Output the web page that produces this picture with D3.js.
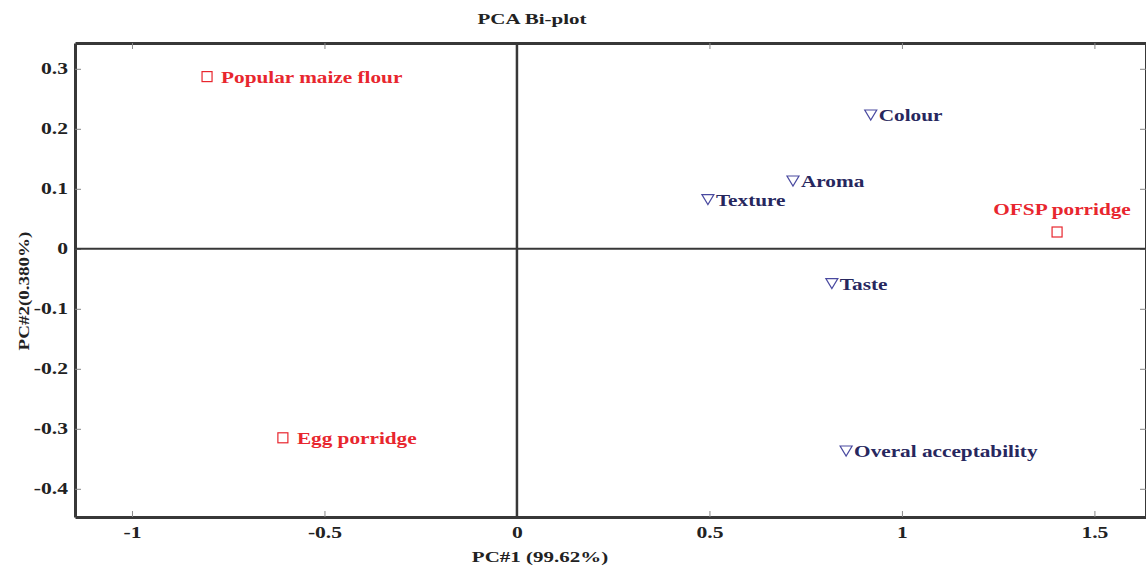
<!DOCTYPE html>
<html>
<head>
<meta charset="utf-8">
<script src="https://cdn.jsdelivr.net/npm/d3@7"></script>
<style>
  body { margin: 0; background: #fff; }
  svg { display: block; font-family: "Liberation Serif", "Times New Roman", serif; font-weight: bold; }
</style>
</head>
<body>
<svg id="chart" width="1146" height="569"></svg>
<script>
// samples (red squares)
const sampleNames = ["Popular maize flour", "Egg porridge", "OFSP porridge"];
const samplePC1 = [-0.805, -0.608, 1.403];
const samplePC2 = [0.287, -0.315, 0.028];

// sensory attributes (blue triangles)
const attrNames = ["Colour", "Aroma", "Texture", "Taste", "Overal acceptability"];
const attrPC1 = [0.919, 0.717, 0.496, 0.818, 0.855];
const attrPC2 = [0.223, 0.113, 0.082, -0.058, -0.337];

const xTicks = [-1, -0.5, 0, 0.5, 1, 1.5];
const yTicks = [0.3, 0.2, 0.1, 0, -0.1, -0.2, -0.3, -0.4];

const margin = { top: 43, right: 0, bottom: 52, left: 75 };
const width = 1146, height = 569;

const svg = d3.select("#chart");

const x = d3.scaleLinear().domain([-1.148, 1.634]).range([margin.left, width - margin.right]);
const y = d3.scaleLinear().domain([-0.447, 0.343]).range([height - margin.bottom, margin.top]);

const axisColor = "#383838";
const red = "#e8262e";
const navy = "#27275e";

// the original figure is stretched sideways, so text is widened
const stretch = 1.3;
const fmt = d => d3.format("")(d).replace("−", "-");

svg.append("g")
    .attr("transform", `translate(0, ${y.range()[0]})`)
    .call(d3.axisBottom(x).tickValues(xTicks).tickSizeInner(-6).tickSizeOuter(0).tickPadding(10).tickFormat(fmt))
    .call(g => g.selectAll("text").attr("font-size", 16).attr("fill", "#222")
        .attr("transform", `scale(${stretch + 0.05}, 1)`));

svg.append("g")
    .attr("transform", `translate(0, ${y.range()[1]})`)
    .call(d3.axisTop(x).tickValues(xTicks).tickSizeInner(-6).tickSizeOuter(0).tickFormat(""));

svg.append("g")
    .attr("transform", `translate(${x.range()[0]}, 0)`)
    .call(d3.axisLeft(y).tickValues(yTicks).tickSizeInner(-6).tickSizeOuter(0).tickPadding(7).tickFormat(fmt))
    .call(g => g.selectAll("text").attr("font-size", 16).attr("fill", "#222")
        .each(function() {
            const t = d3.select(this);
            const tx = +t.attr("x");
            t.attr("x", 0).attr("transform", `translate(${tx}, 0) scale(${stretch + 0.05}, 1)`);
        }));

svg.append("g")
    .attr("transform", `translate(${x.range()[1]}, 0)`)
    .call(d3.axisRight(y).tickValues(yTicks).tickSizeInner(-6).tickSizeOuter(0).tickFormat(""));

svg.selectAll(".domain").attr("stroke", axisColor).attr("stroke-width", 3);
svg.selectAll(".tick line").attr("stroke", "#888").attr("stroke-width", 1);
svg.selectAll("g text").attr("font-family", "Liberation Serif").attr("font-weight", "bold");

// zero lines
svg.append("line")
    .attr("x1", x.range()[0]).attr("x2", x.range()[1])
    .attr("y1", y(0)).attr("y2", y(0))
    .attr("stroke", axisColor).attr("stroke-width", 2);
svg.append("line")
    .attr("x1", x(0)).attr("x2", x(0))
    .attr("y1", y.range()[0]).attr("y2", y.range()[1])
    .attr("stroke", axisColor).attr("stroke-width", 2.5);

// title and axis labels
svg.append("text")
    .attr("transform", `translate(532, 24) scale(1.4, 1)`)
    .attr("text-anchor", "middle").attr("font-size", 15).attr("fill", "#222")
    .text("PCA Bi-plot");
svg.append("text")
    .attr("transform", `translate(540, 562) scale(1.4, 1)`)
    .attr("text-anchor", "middle").attr("font-size", 15).attr("fill", "#222")
    .text("PC#1 (99.62%)");
svg.append("text")
    .attr("transform", `translate(29, 291) rotate(-90) scale(1.27, 1)`)
    .attr("text-anchor", "middle").attr("font-size", 15).attr("fill", "#222")
    .text("PC#2(0.380%)");

// samples
const samples = sampleNames.map((n, i) => ({ name: n, pc1: samplePC1[i], pc2: samplePC2[i] }));
const sg = svg.selectAll("g.sample").data(samples).join("g")
    .attr("class", "sample")
    .attr("transform", d => `translate(${x(d.pc1)}, ${y(d.pc2)})`);
sg.append("rect")
    .attr("x", -5).attr("y", -5).attr("width", 10).attr("height", 10)
    .attr("fill", "none").attr("stroke", red).attr("stroke-width", 1.2);
sg.append("text")
    .attr("transform", d => d.name === "OFSP porridge"
        ? `translate(5, -17) scale(1.25, 1)`
        : `translate(14, 6) scale(1.25, 1)`)
    .attr("text-anchor", d => d.name === "OFSP porridge" ? "middle" : "start")
    .attr("font-size", 17).attr("fill", red)
    .text(d => d.name);

// attributes
const attrs = attrNames.map((n, i) => ({ name: n, pc1: attrPC1[i], pc2: attrPC2[i] }));
const ag = svg.selectAll("g.attr").data(attrs).join("g")
    .attr("class", "attr")
    .attr("transform", d => `translate(${x(d.pc1)}, ${y(d.pc2)})`);
ag.append("path")
    .attr("d", "M-6,-5 L6,-5 L0,5 Z")
    .attr("fill", "none").attr("stroke", "#4a4aa0").attr("stroke-width", 1.2);
ag.append("text")
    .attr("transform", "translate(8, 6) scale(1.25, 1)")
    .attr("font-size", 17).attr("fill", navy)
    .text(d => d.name);
</script>
</body>
</html>
